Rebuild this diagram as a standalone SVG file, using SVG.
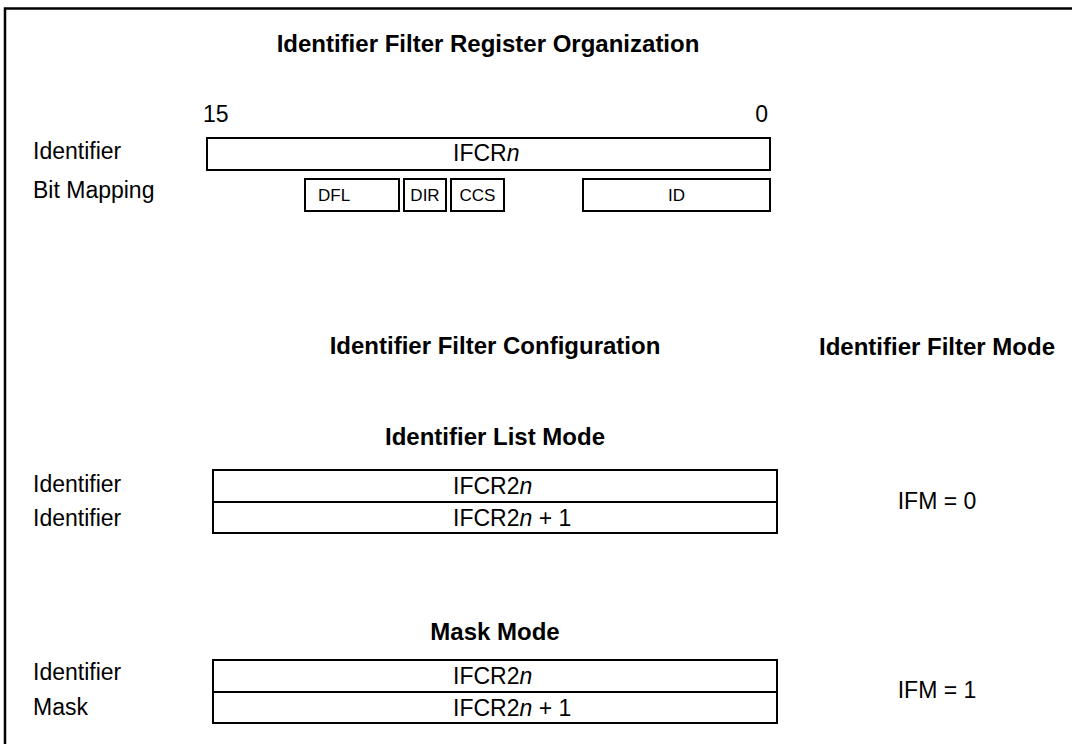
<svg xmlns="http://www.w3.org/2000/svg" width="1072" height="744" viewBox="0 0 1072 744">
<style>
  text { font-family: "Liberation Sans", Arial, sans-serif; fill: #000; }
  .t { font-size: 24px; font-weight: bold; text-anchor: middle; }
  .l { font-size: 23px; }
  .m { font-size: 23px; text-anchor: middle; }
  .b { font-size: 17px; }
  .bc { font-size: 17px; text-anchor: middle; }
  .box { fill: #fff; stroke: #000; stroke-width: 2; }
  .div { stroke: #000; stroke-width: 2; fill: none; }
  .i { font-style: italic; }
</style>
<rect x="0" y="0" width="1072" height="744" fill="#fff"/>
<path d="M5,744 V8.5 H1072" fill="none" stroke="#000" stroke-width="2.5"/>

<g id="titles">
  <text class="t" x="488" y="52">Identifier Filter Register Organization</text>
  <text class="t" x="495" y="354">Identifier Filter Configuration</text>
  <text class="t" x="937" y="355">Identifier Filter Mode</text>
  <text class="t" x="495" y="445">Identifier List Mode</text>
  <text class="t" x="495" y="640">Mask Mode</text>
</g>

<g id="row-labels">
  <text class="l" x="203" y="122">15</text>
  <text class="l" x="768" y="122" text-anchor="end">0</text>
  <text class="l" x="33" y="159">Identifier</text>
  <text class="l" x="33" y="198">Bit Mapping</text>
  <text class="l" x="33" y="492">Identifier</text>
  <text class="l" x="33" y="526">Identifier</text>
  <text class="l" x="33" y="680">Identifier</text>
  <text class="l" x="33" y="715">Mask</text>
</g>

<g id="ifcrn">
  <rect class="box" x="207" y="138" width="563" height="32"/>
  <text class="l" x="453" y="161">IFCR<tspan class="i">n</tspan></text>
</g>

<g id="bit-dfl">
  <rect class="box" x="305" y="179" width="94" height="32"/>
  <text class="b" x="318" y="201">DFL</text>
</g>
<g id="bit-dir">
  <rect class="box" x="404" y="179" width="42" height="32"/>
  <text class="bc" x="425" y="201">DIR</text>
</g>
<g id="bit-ccs">
  <rect class="box" x="451" y="179" width="53" height="32"/>
  <text class="bc" x="477.5" y="201">CCS</text>
</g>
<g id="bit-id">
  <rect class="box" x="583" y="179" width="187" height="32"/>
  <text class="bc" x="676.5" y="201">ID</text>
</g>

<g id="list-mode">
  <rect class="box" x="213" y="470" width="564" height="63"/>
  <line class="div" x1="213" y1="502" x2="777" y2="502"/>
  <text class="l" x="453" y="494">IFCR2<tspan class="i">n</tspan></text>
  <text class="l" x="453" y="526">IFCR2<tspan class="i">n</tspan> + 1</text>
  <text class="m" x="937" y="509">IFM = 0</text>
</g>

<g id="mask-mode">
  <rect class="box" x="213" y="660" width="564" height="63"/>
  <line class="div" x1="213" y1="692" x2="777" y2="692"/>
  <text class="l" x="453" y="684">IFCR2<tspan class="i">n</tspan></text>
  <text class="l" x="453" y="716">IFCR2<tspan class="i">n</tspan> + 1</text>
  <text class="m" x="937" y="698">IFM = 1</text>
</g>

<g id="connectors"/>
</svg>
